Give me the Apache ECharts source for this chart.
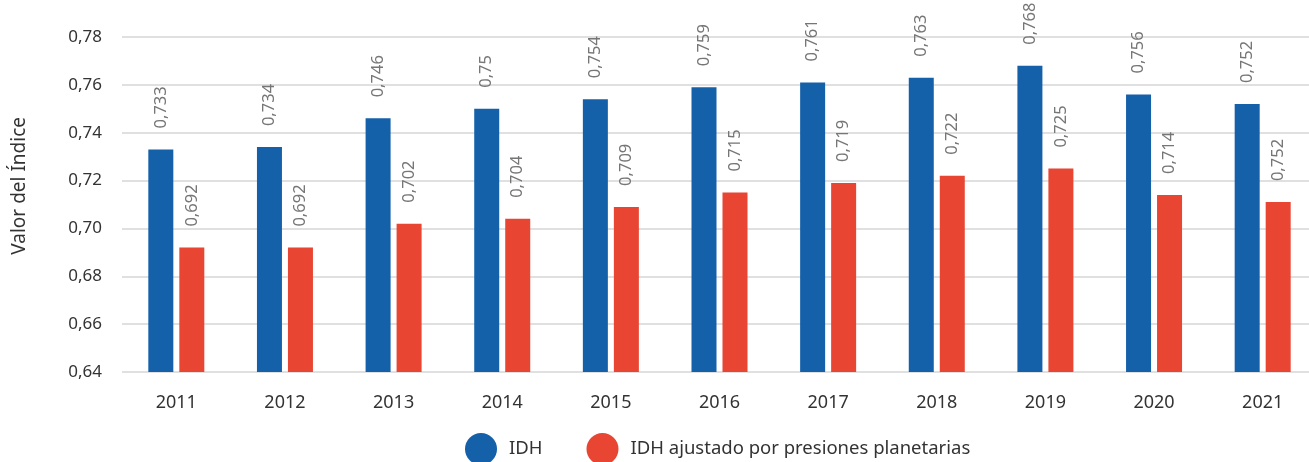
<!DOCTYPE html>
<html>
<head>
<meta charset="utf-8">
<script src="https://cdn.jsdelivr.net/npm/echarts@6/dist/echarts.min.js"></script>
<style>
  html, body { margin: 0; padding: 0; background: #fff; overflow: hidden; }
  #chart { width: 1320px; height: 462px; }
</style>
</head>
<body>
<div id="chart"></div>
<script>
var years = ['2011', '2012', '2013', '2014', '2015', '2016', '2017', '2018', '2019', '2020', '2021'];
var idh = [0.733, 0.734, 0.746, 0.750, 0.754, 0.759, 0.761, 0.763, 0.768, 0.756, 0.752];
var idhAjustado = [0.692, 0.692, 0.702, 0.704, 0.709, 0.715, 0.719, 0.722, 0.725, 0.714, 0.711];
// labels as printed in the source (the last one reads 0,752)
var idhLabels = ['0,733', '0,734', '0,746', '0,75', '0,754', '0,759', '0,761', '0,763', '0,768', '0,756', '0,752'];
var ajustadoLabels = ['0,692', '0,692', '0,702', '0,704', '0,709', '0,715', '0,719', '0,722', '0,725', '0,714', '0,752'];

var font = 'Noto Sans';

function barLabel(labels) {
  return {
    show: true,
    position: 'top',
    rotate: 90,
    align: 'left',
    verticalAlign: 'middle',
    distance: 21,
    color: '#767676',
    fontFamily: font,
    fontSize: 16.5,
    formatter: function (p) { return labels[p.dataIndex]; }
  };
}

var chart = echarts.init(document.getElementById('chart'));
chart.setOption({
  animation: false,
  grid: { left: 122, top: 37, width: 1195, height: 335 },
  graphic: [{
    type: 'text',
    left: 10,
    top: 117,
    rotation: Math.PI / 2,
    style: { text: 'Valor del Índice', fontFamily: font, fontSize: 19, fill: '#333' }
  }],
  legend: {
    bottom: -8,
    left: 460,
    icon: 'circle',
    itemWidth: 32,
    itemHeight: 32,
    itemGap: 44,
    textStyle: { fontFamily: font, fontSize: 18.5, color: '#333', padding: [0, 0, 0, 7] },
    data: ['IDH', 'IDH ajustado por presiones planetarias']
  },
  xAxis: {
    type: 'category',
    data: years,
    axisLine: { show: false },
    axisTick: { show: false },
    axisLabel: { fontFamily: font, fontSize: 18, color: '#333', margin: 22 }
  },
  yAxis: {
    type: 'value',
    min: 0.64,
    max: 0.78,
    interval: 0.02,
    axisLabel: {
      fontFamily: font, fontSize: 17, color: '#333', margin: 20,
      formatter: function (v) { return v.toFixed(2).replace('.', ','); }
    },
    splitLine: { lineStyle: { color: '#d6d6d6', width: 1.5 } }
  },
  series: [
    {
      name: 'IDH',
      type: 'bar',
      data: idh,
      barWidth: 25,
      barGap: '24%',
      itemStyle: { color: '#1461aa' },
      label: barLabel(idhLabels)
    },
    {
      name: 'IDH ajustado por presiones planetarias',
      type: 'bar',
      data: idhAjustado,
      barWidth: 25,
      itemStyle: { color: '#e84532' },
      label: barLabel(ajustadoLabels)
    }
  ]
});
</script>
</body>
</html>
